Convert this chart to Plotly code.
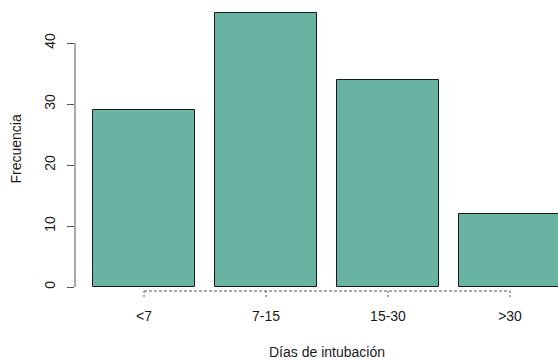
import plotly.graph_objects as go

# Intubation-duration groups and their counts
categorias = ["<7", "7-15", "15-30", ">30"]
frecuencias = [29, 45, 34, 12]
y_ticks = [0, 10, 20, 30, 40]

W, H = 558, 360
ml, mr, mt, mb = 75, 0, 8, 69
plot_h = H - mt - mb

bar_fill = "#69b3a2"
ink = "#1a1a1a"
axis_col = "#555555"
font_family = "Liberation Sans, Arial, sans-serif"
fs = 14

pos = list(range(len(categorias)))

fig = go.Figure(
    go.Bar(
        x=pos,
        y=frecuencias,
        width=1 / 1.2,
        marker=dict(color=bar_fill, line=dict(color="#1a1a1a", width=1)),
        hoverinfo="x+y",
    )
)

# dashed category axis spanning first to last category, with dashed ticks
shapes = [
    dict(type="line", xref="x", yref="paper", x0=pos[0], x1=pos[-1], y0=0, y1=0,
         line=dict(color=axis_col, width=1, dash="3px,2px"))
]
tick_len = 7 / plot_h
for p in pos:
    shapes.append(dict(type="line", xref="x", yref="paper", x0=p, x1=p, y0=0, y1=-tick_len,
                       line=dict(color=axis_col, width=1, dash="2px,2px")))
# value axis line from lowest to highest tick
shapes.append(dict(type="line", xref="paper", yref="y", x0=0, x1=0,
                   y0=y_ticks[0], y1=y_ticks[-1], line=dict(color=axis_col, width=1)))

fig.update_layout(
    width=W, height=H,
    margin=dict(l=ml, r=mr, t=mt, b=mb, pad=0),
    paper_bgcolor="white", plot_bgcolor="white",
    font=dict(family=font_family, size=fs, color=ink),
    showlegend=False,
    bargap=0,
    shapes=shapes,
    xaxis=dict(
        range=[-0.5656, 3.3934],
        tickmode="array", tickvals=pos, ticktext=categorias,
        showgrid=False, zeroline=False, showline=False, ticks="",
        ticklabelstandoff=15,
        fixedrange=True,
    ),
    yaxis=dict(
        range=[-0.656, 45.74],
        tickmode="array", tickvals=y_ticks,
        showgrid=False, zeroline=False, showline=False,
        ticks="outside", ticklen=7, tickcolor=axis_col, tickwidth=1,
        tickangle=-90,
        ticklabelstandoff=6,
        fixedrange=True,
    ),
    annotations=[
        dict(text="Días de intubación", xref="paper", yref="paper",
             x=(327 - ml) / (W - ml), y=-(352 - (H - mb)) / plot_h,
             xanchor="center", yanchor="middle", showarrow=False,
             font=dict(size=fs, color=ink)),
        dict(text="Frecuencia", xref="paper", yref="paper",
             x=-(ml - 15) / (W - ml), y=0.5, textangle=-90,
             xanchor="center", yanchor="middle", showarrow=False,
             font=dict(size=fs, color=ink)),
    ],
)

fig.write_html("out.html")
